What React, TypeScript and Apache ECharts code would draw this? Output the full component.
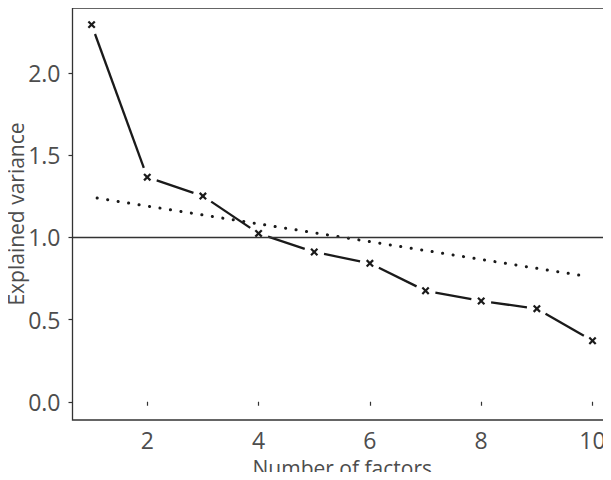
import React, { useEffect, useRef } from "react";
import * as echarts from "echarts";

const factors = [1, 2, 3, 4, 5, 6, 7, 8, 9, 10];
const explainedVariance = [2.294, 1.366, 1.251, 1.024, 0.911, 0.842, 0.675, 0.613, 0.566, 0.371];
const referenceX = [1.1, 9.86];
const referenceY = [1.239, 0.765];
const yTicks = [0, 0.5, 1, 1.5, 2];
const xTicks = [2, 4, 6, 8, 10];
const kaiserLine = 1;

const INK = "#1a1a1a";
const TEXT = "#4d4d4d";
const FONT = "Open Sans";

export default function App() {
  const ref = useRef<HTMLDivElement>(null);
  useEffect(() => {
    if (!ref.current) return;
    const chart = echarts.init(ref.current, null, { renderer: "svg" });
    const points = factors.map((f, i) => [f, explainedVariance[i]]);
    const segments = factors.slice(0, -1).map((f, i) => [
      f,
      explainedVariance[i],
      factors[i + 1],
      explainedVariance[i + 1],
    ]);
    const gap = 10;
    chart.setOption({
      animation: false,
      backgroundColor: "#ffffff",
      grid: {
        left: 72.5,
        top: 8,
        right: -1,
        bottom: 60,
        outerBoundsMode: "none",
        containLabel: false,
        show: true,
        borderColor: "#333",
        borderWidth: 1.3,
        backgroundColor: "#fff",
      },
      xAxis: {
        type: "value",
        min: 0.657,
        max: 10.35,
        name: "Number of factors",
        nameLocation: "middle",
        nameGap: 37,
        nameMoveOverlap: false,
        nameTextStyle: { fontFamily: FONT, fontSize: 21, color: TEXT },
        axisLine: { show: false },
        splitLine: { show: false },
        axisTick: { show: true, length: 4, customValues: xTicks, lineStyle: { color: "#333", width: 1.2 } },
        axisLabel: {
          customValues: xTicks,
          fontFamily: FONT,
          fontSize: 23,
          color: TEXT,
          margin: 8,
          formatter: (v: number) => String(v),
        },
      },
      yAxis: {
        type: "value",
        min: -0.111,
        max: 2.395,
        name: "Explained variance",
        nameLocation: "middle",
        nameGap: 46,
        nameMoveOverlap: false,
        nameTextStyle: { fontFamily: FONT, fontSize: 21, color: TEXT },
        axisLine: { show: false },
        splitLine: { show: false },
        axisTick: { show: true, length: 4, customValues: yTicks, lineStyle: { color: "#333", width: 1.2 } },
        axisLabel: {
          customValues: yTicks,
          fontFamily: FONT,
          fontSize: 23,
          color: TEXT,
          margin: 12,
          formatter: (v: number) => v.toFixed(1),
        },
      },
      series: [
        {
          type: "line",
          data: referenceX.map((x, i) => [x, referenceY[i]]),
          showSymbol: false,
          symbol: "none",
          lineStyle: { color: INK, width: 3, type: [0.1, 10.5], cap: "round" },
          markLine: {
            silent: true,
            symbol: "none",
            label: { show: false },
            lineStyle: { color: "#333", width: 1.3, type: "solid" },
            data: [{ yAxis: kaiserLine }],
          },
          z: 2,
        },
        {
          type: "custom",
          data: segments,
          encode: { x: [0, 2], y: [1, 3] },
          renderItem: (params: any, api: any) => {
            const a = api.coord([api.value(0), api.value(1)]);
            const b = api.coord([api.value(2), api.value(3)]);
            const dx = b[0] - a[0];
            const dy = b[1] - a[1];
            const len = Math.sqrt(dx * dx + dy * dy);
            const ux = dx / len;
            const uy = dy / len;
            return {
              type: "line",
              shape: {
                x1: a[0] + ux * gap,
                y1: a[1] + uy * gap,
                x2: b[0] - ux * gap,
                y2: b[1] - uy * gap,
              },
              style: { stroke: INK, lineWidth: 2.3, lineCap: "butt" },
            };
          },
          z: 3,
        },
        {
          type: "custom",
          data: points,
          encode: { x: 0, y: 1 },
          renderItem: (params: any, api: any) => {
            const p = api.coord([api.value(0), api.value(1)]);
            const s = 3.2;
            const st = { stroke: INK, lineWidth: 2.2, lineCap: "butt" };
            return {
              type: "group",
              children: [
                { type: "line", shape: { x1: p[0] - s, y1: p[1] - s, x2: p[0] + s, y2: p[1] + s }, style: st },
                { type: "line", shape: { x1: p[0] - s, y1: p[1] + s, x2: p[0] + s, y2: p[1] - s }, style: st },
              ],
            };
          },
          z: 4,
        },
      ],
    });
    return () => chart.dispose();
  }, []);
  return <div ref={ref} style={{ width: 611, height: 480, margin: -8 }} />;
}
